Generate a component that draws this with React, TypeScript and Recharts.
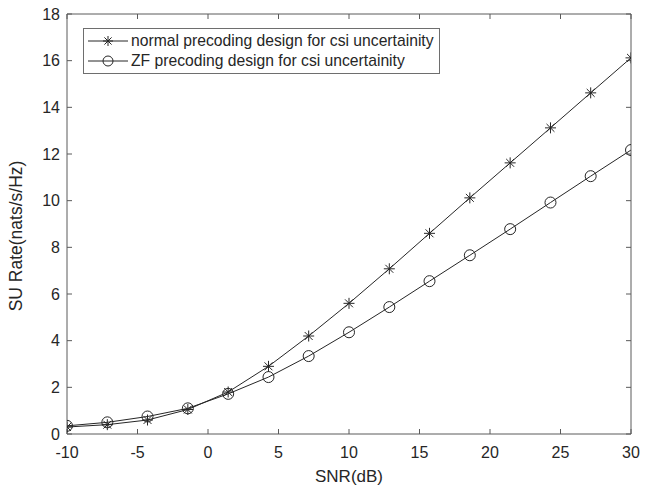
import React from 'react';
import { LineChart, Line, XAxis, YAxis, Legend } from 'recharts';

// SNR sample points (dB)
const snr = [-10, -7.14, -4.29, -1.43, 1.43, 4.29, 7.14, 10, 12.86, 15.71, 18.57, 21.43, 24.29, 27.14, 30];
// normal precoding design (asterisk)
const normalRate = [0.3, 0.4, 0.6, 1.05, 1.8, 2.9, 4.2, 5.6, 7.08, 8.6, 10.12, 11.62, 13.12, 14.62, 16.12];
// ZF precoding design (circle)
const zfRate = [0.35, 0.5, 0.75, 1.1, 1.72, 2.44, 3.34, 4.36, 5.44, 6.55, 7.66, 8.78, 9.92, 11.05, 12.17];

const xTicks = [-10, -5, 0, 5, 10, 15, 20, 25, 30];
const yTicks = [0, 2, 4, 6, 8, 10, 12, 14, 16, 18];

const seriesNames = [
  'normal precoding design for csi uncertainity',
  'ZF precoding design for csi uncertainity',
];

const FONT = '"Liberation Sans", Arial, sans-serif';
const INK = '#262626';
const AXIS = '#5a5a5a';

const data = snr.map((x, i) => ({ snr: x, normal: normalRate[i], zf: zfRate[i] }));

function Asterisk({ cx, cy, r = 5.5 }: { cx: number; cy: number; r?: number }) {
  const d = r * 0.72;
  return (
    <g stroke={INK} strokeWidth={1}>
      <line x1={cx - r} y1={cy} x2={cx + r} y2={cy} />
      <line x1={cx} y1={cy - r} x2={cx} y2={cy + r} />
      <line x1={cx - d} y1={cy - d} x2={cx + d} y2={cy + d} />
      <line x1={cx - d} y1={cy + d} x2={cx + d} y2={cy - d} />
    </g>
  );
}

function Ring({ cx, cy, r = 5.5 }: { cx: number; cy: number; r?: number }) {
  return <circle cx={cx} cy={cy} r={r} fill="none" stroke={INK} strokeWidth={1} />;
}

function LegendBox() {
  return (
    <div
      style={{
        width: 357,
        height: 46,
        border: '1px solid #6e6e6e',
        background: '#fff',
        boxSizing: 'border-box',
        position: 'relative',
      }}
    >
      {seriesNames.map((name, i) => (
        <div key={name} style={{ position: 'absolute', left: 4, top: 3 + i * 20, height: 18, display: 'flex', alignItems: 'center' }}>
          <svg width={42} height={18}>
            <line x1={0} y1={9} x2={40} y2={9} stroke={INK} strokeWidth={1} />
            {i === 0 ? <Asterisk cx={20} cy={9} r={5} /> : <Ring cx={20} cy={9} r={5} />}
          </svg>
          <span style={{ fontFamily: FONT, fontSize: 15.7, color: INK, whiteSpace: 'nowrap', marginLeft: 1 }}>{name}</span>
        </div>
      ))}
    </div>
  );
}

export default function App() {
  return (
    <div style={{ position: 'absolute', left: 0, top: 0, width: 653, height: 488, background: '#fff' }}>
      <LineChart width={653} height={488} data={data} margin={{ top: 13, right: 21, left: 0, bottom: 0 }}>
        <XAxis
          dataKey="snr"
          type="number"
          domain={[-10, 30]}
          ticks={xTicks}
          allowDataOverflow
          height={54}
          stroke={AXIS}
          tickSize={-5}
          tickMargin={18}
          tick={{ fill: INK, fontSize: 16, fontFamily: FONT }}
          label={{
            content: () => (
              <text x={349} y={482} textAnchor="middle" fill={INK} fontSize={17} fontFamily={FONT}>
                SNR(dB)
              </text>
            ),
          }}
        />
        <XAxis
          xAxisId="top"
          orientation="top"
          dataKey="snr"
          type="number"
          domain={[-10, 30]}
          ticks={xTicks}
          height={1}
          stroke={AXIS}
          tickSize={-5}
          tickFormatter={() => ''}
        />
        <YAxis
          type="number"
          domain={[0, 18]}
          ticks={yTicks}
          allowDataOverflow
          width={67}
          stroke={AXIS}
          tickSize={-5}
          tickMargin={12}
          tick={{ fill: INK, fontSize: 16, fontFamily: FONT }}
          label={{
            content: () => (
              <text
                x={16}
                y={236}
                transform="rotate(-90 16 236)"
                textAnchor="middle"
                dominantBaseline="central"
                fill={INK}
                fontSize={17.5}
                fontFamily={FONT}
              >
                SU Rate(nats/s/Hz)
              </text>
            ),
          }}
        />
        <YAxis
          yAxisId="right"
          orientation="right"
          type="number"
          domain={[0, 18]}
          ticks={yTicks}
          width={1}
          stroke={AXIS}
          tickSize={-5}
          tickFormatter={() => ''}
        />
        <Legend
          layout="vertical"
          align="center"
          verticalAlign="middle"
          content={() => <LegendBox />}
          wrapperStyle={{ position: 'absolute', left: 83, top: 28, width: 357, height: 46 }}
        />
        <Line
          xAxisId="top"
          yAxisId="right"
          dataKey="normal"
          stroke="none"
          dot={false}
          legendType="none"
          isAnimationActive={false}
        />
        <Line
          dataKey="normal"
          name={seriesNames[0]}
          stroke={INK}
          strokeWidth={1}
          dot={(p: any) => <Asterisk key={`a${p.index}`} cx={p.cx} cy={p.cy} />}
          activeDot={false}
          isAnimationActive={false}
        />
        <Line
          dataKey="zf"
          name={seriesNames[1]}
          stroke={INK}
          strokeWidth={1}
          dot={(p: any) => <Ring key={`o${p.index}`} cx={p.cx} cy={p.cy} />}
          activeDot={false}
          isAnimationActive={false}
        />
      </LineChart>
    </div>
  );
}
